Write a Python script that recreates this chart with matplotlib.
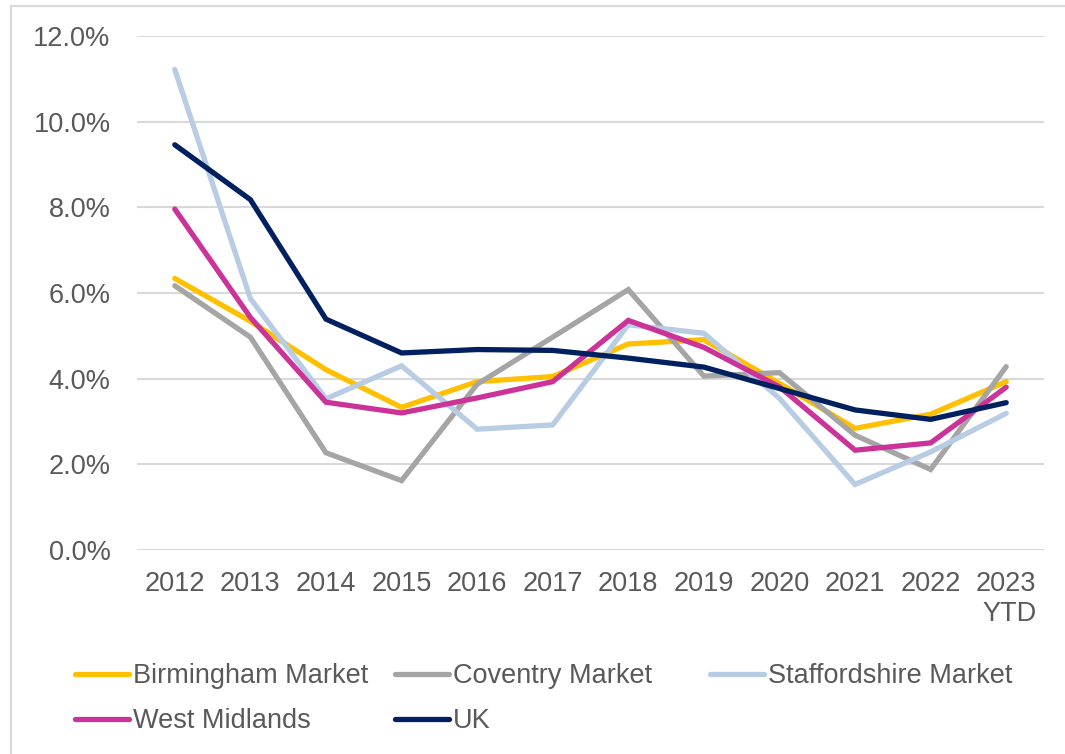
import matplotlib
matplotlib.use('Agg')
import matplotlib.pyplot as plt
from matplotlib.patches import Rectangle
from matplotlib.ticker import FuncFormatter

years = ['2012', '2013', '2014', '2015', '2016', '2017', '2018', '2019', '2020', '2021', '2022', '2023\nYTD']
birmingham = [6.34, 5.34, 4.21, 3.33, 3.93, 4.05, 4.81, 4.91, 3.89, 2.84, 3.17, 3.93]
coventry = [6.17, 4.97, 2.27, 1.62, 3.87, 4.97, 6.08, 4.06, 4.14, 2.68, 1.88, 4.28]
staffordshire = [11.22, 5.87, 3.53, 4.30, 2.82, 2.92, 5.26, 5.06, 3.54, 1.53, 2.29, 3.19]
west_midlands = [7.96, 5.43, 3.45, 3.20, 3.55, 3.93, 5.36, 4.73, 3.81, 2.33, 2.50, 3.80]
uk = [9.46, 8.18, 5.39, 4.60, 4.68, 4.66, 4.48, 4.27, 3.77, 3.27, 3.05, 3.44]

plt.rcParams['font.family'] = ['Liberation Sans', 'DejaVu Sans']
txt = '#595959'
fs = 19.5

fig = plt.figure(figsize=(10.65, 7.54), dpi=100)
ax = fig.add_axes([137/1065, 1-550/754, (1044-137)/1065, (550-36)/754])

x = range(len(years))
series = [
    ('Birmingham Market', birmingham, '#FFC000'),
    ('Coventry Market', coventry, '#A5A5A5'),
    ('Staffordshire Market', staffordshire, '#B8CCE4'),
    ('West Midlands', west_midlands, '#CC3399'),
    ('UK', uk, '#002060'),
]
lines = {}
for name, vals, col in series:
    lines[name], = ax.plot(x, vals, color=col, lw=3.8, label=name, solid_capstyle='round', solid_joinstyle='miter')

ax.set_xlim(-0.5, 11.5)
ax.set_ylim(0, 12)
ax.set_yticks([0, 2, 4, 6, 8, 10, 12])
ax.yaxis.set_major_formatter(FuncFormatter(lambda v, p: '%.1f%%' % v))
ax.set_xticks(list(x))
ax.set_xticklabels(years, ha='center')
ax.get_xticklabels()[-1].set_multialignment('right')
ax.grid(axis='y', color='#D9D9D9', lw=1.5)
ax.set_axisbelow(True)
for s in ax.spines.values():
    s.set_visible(False)
ax.tick_params(axis='both', length=0, labelsize=fs, labelcolor=txt)
ax.tick_params(axis='y', pad=19)
ax.tick_params(axis='x', pad=15)

# legend entries placed like the original (fixed column slots)
slots = {
    'Birmingham Market': (75, 676),
    'Coventry Market': (395, 676),
    'Staffordshire Market': (710, 676),
    'West Midlands': (75, 721),
    'UK': (395, 721),
}
for name, (px, py) in slots.items():
    fig.legend([lines[name]], [name], loc='center left',
               bbox_to_anchor=(px/1065, 1-py/754), frameon=False, fontsize=fs,
               labelcolor=txt, handlelength=2.0, handletextpad=0.15,
               borderpad=0, borderaxespad=0)

fig.patches.append(Rectangle((11/1065, -0.1), 2, 1.1 - 6/754, transform=fig.transFigure,
                             fill=False, edgecolor='#D9D9D9', lw=1.5))

fig.savefig('out.png', dpi=100)
